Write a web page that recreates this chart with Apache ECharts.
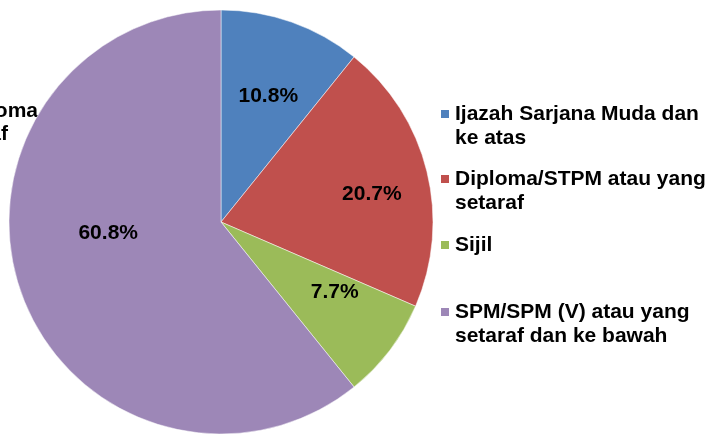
<!DOCTYPE html>
<html>
<head>
<meta charset="utf-8">
<script src="https://cdn.jsdelivr.net/npm/echarts@6/dist/echarts.min.js"></script>
<style>
  html, body { margin: 0; padding: 0; background: #fff; }
  #main { width: 709px; height: 434px; }
</style>
</head>
<body>
<div id="main"></div>
<script>
// data
var categories = [
  'Ijazah Sarjana Muda dan\nke atas',
  'Diploma/STPM atau yang\nsetaraf',
  'Sijil',
  'SPM/SPM (V) atau yang\nsetaraf dan ke bawah'
]
var values = [10.8, 20.7, 7.7, 60.8]

var colors = ['#4F81BD', '#C0504D', '#9BBB59', '#9D87B7']
// nudge of each label away from the default 'inside' spot (Excel best-fit look)
var labelNudge = [[11, -23], [45, -2], [27, 4], [-10, -25]]
var legendTops = [78, 143, 233, 276]

var myChart = echarts.init(document.getElementById('main'))

var font = { fontFamily: 'Liberation Sans, Arial, sans-serif', fontWeight: 'bold', fontSize: 21, color: '#000' }

var legends = categories.map(function (name, i) {
  return {
    data: [name],
    orient: 'vertical',
    left: 439,
    top: legendTops[i],
    padding: 0,
    icon: 'rect',
    itemWidth: 10,
    itemHeight: 10,
    selectedMode: false,
    // empty first line so the square sits on the first text line
    formatter: function (n) { return n.indexOf('\n') >= 0 ? '\n' + n : n },
    textStyle: Object.assign({}, font, { lineHeight: 24 })
  }
})

var option = {
  animation: false,
  color: colors,
  legend: legends,
  // stray label partly cut off at the left edge
  graphic: [
    { type: 'text', z: 0, x: 38, y: 111, style: Object.assign({ text: 'Diploma', align: 'right', verticalAlign: 'middle' }, font, { fill: '#000' }) },
    { type: 'text', z: 0, x: 8, y: 134, style: Object.assign({ text: 'setaraf', align: 'right', verticalAlign: 'middle' }, font, { fill: '#000' }) }
  ],
  series: [
    {
      type: 'pie',
      center: [221, 222],
      radius: 212,
      startAngle: 90,
      clockwise: true,
      z: 5,
      itemStyle: {
        borderColor: '#fff',
        borderWidth: 0.5
      },
      label: Object.assign({
        show: true,
        position: 'inside',
        formatter: function (p) { return p.value.toFixed(1) + '%' }
      }, font),
      labelLine: { show: false },
      emphasis: { disabled: true },
      labelLayout: function (params) {
        var n = labelNudge[params.dataIndex]
        return { dx: n[0], dy: n[1] }
      },
      data: categories.map(function (c, i) {
        return { name: c, value: values[i] }
      })
    }
  ]
}

myChart.setOption(option)
</script>
</body>
</html>
